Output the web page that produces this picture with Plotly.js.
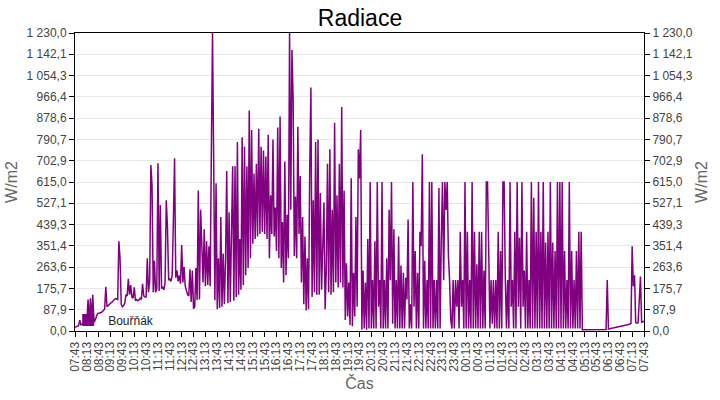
<!DOCTYPE html>
<html>
<head>
<meta charset="utf-8">
<script src="https://cdn.plot.ly/plotly-3.0.1.min.js"></script>
<style>
  html, body { margin: 0; padding: 0; background: #fff; }
  #chart { width: 720px; height: 400px; }
</style>
</head>
<body>
<div id="chart"></div>
<script>
// sampling: one reading every 3 minutes, starting 07:43
const START = Date.UTC(2024, 4, 1, 7, 43);
const STEP_MIN = 3;
const SERIES_NAME = 'Bouřňák';

// W/m2, 30-minute blocks of 10 readings each
const radiation = [
    15, 17, 20, 22, 45, 25, 28, 30, 30, 32,            // 07:43
    35, 130, 35, 135, 40, 150, 35, 45, 60, 72,         // 08:13
    73, 74, 76, 80, 85, 90, 182, 100, 105, 112,        // 08:43
    115, 118, 122, 128, 134, 132, 130, 370, 300, 110,  // 09:13
    100, 105, 115, 150, 145, 215, 150, 190, 140, 135,  // 09:43
    180, 125, 130, 125, 128, 135, 130, 195, 145, 140,  // 10:13
    140, 300, 160, 205, 685, 600, 160, 290, 160, 175,  // 10:43
    692, 165, 520, 175, 180, 170, 200, 540, 430, 210,  // 11:13
    215, 205, 230, 458, 713, 220, 250, 205, 230, 195,  // 11:43
    355, 200, 265, 185, 160, 150, 145, 255, 120, 250,  // 12:13
    92, 100, 260, 128, 580, 130, 500, 370, 200, 420,   // 12:43
    185, 370, 190, 350, 185, 720, 1230, 700, 127, 610, // 13:13
    90, 300, 95, 470, 100, 320, 110, 300, 660, 115,    // 13:43
    490, 120, 390, 680, 125, 680, 140, 780, 150, 380,  // 14:13
    170, 800, 190, 760, 230, 680, 260, 910, 300, 830,  // 14:43
    360, 650, 380, 690, 390, 835, 400, 760, 410, 745,  // 15:13
    400, 720, 380, 810, 300, 560, 400, 790, 390, 510,  // 15:43
    330, 840, 300, 885, 260, 450, 200, 700, 230, 480,  // 16:13
    300, 1230, 500, 1160, 960, 310, 555, 300, 843, 400, // 16:43
    640, 200, 470, 110, 390, 85, 300, 90, 660, 1005,   // 17:13
    140, 540, 160, 780, 150, 790, 150, 570, 170, 360,  // 17:43
    530, 90, 250, 690, 160, 750, 150, 500, 160, 860,   // 18:13
    200, 560, 180, 690, 200, 925, 180, 580, 45, 280,   // 18:43
    60, 200, 25, 630, 20, 240, 60, 470, 100, 750,      // 19:13
    630, 830, 5, 250, 10, 200, 5, 380, 10, 615,        // 19:43
    10, 210, 10, 370, 10, 615, 100, 210, 10, 615,      // 20:13
    10, 210, 10, 300, 10, 500, 210, 615, 30, 420,      // 20:43
    10, 210, 10, 390, 10, 270, 10, 240, 10, 220,       // 21:13
    130, 460, 10, 110, 10, 615, 100, 330, 10, 240,     // 21:43
    10, 410, 350, 730, 10, 290, 10, 210, 10, 615,      // 22:13
    10, 615, 10, 210, 10, 210, 10, 590, 10, 380,       // 22:43
    615, 210, 615, 500, 615, 310, 210, 45, 10, 210,    // 23:13
    10, 210, 100, 210, 10, 410, 100, 210, 10, 615,     // 23:43
    10, 410, 10, 210, 10, 615, 10, 410, 10, 275,       // 00:13
    10, 410, 10, 410, 10, 250, 10, 615, 615, 330,      // 00:43
    10, 210, 30, 210, 10, 210, 10, 410, 10, 330,       // 01:13
    10, 615, 615, 210, 10, 210, 10, 615, 100, 210,     // 01:43
    10, 410, 10, 615, 100, 385, 10, 615, 100, 250,     // 02:13
    10, 410, 10, 210, 10, 615, 10, 550, 10, 410,       // 02:43
    10, 615, 10, 410, 10, 615, 10, 365, 10, 410,       // 03:13
    10, 615, 10, 365, 10, 330, 10, 615, 10, 615,       // 03:43
    10, 615, 10, 330, 10, 210, 10, 615, 10, 330,       // 04:13
    10, 210, 10, 330, 10, 410, 10, 410, 5, 5,          // 04:43
    5, 5, 5, 5, 5, 5, 5, 5, 5, 5,                      // 05:13
    5, 5, 5, 5, 6, 6, 6, 6, 6, 210,                    // 05:43
    8, 9, 10, 11, 12, 13, 14, 15, 16, 17,              // 06:13
    18, 19, 20, 21, 22, 24, 26, 27, 29, 30,            // 06:43
    350, 185, 230, 35, 32, 34, 125, 225, 36, 38,       // 07:13
    40                                                 // 07:43
];

const Y_MAX = 1230;
const Y_DIVISIONS = 14;

function stamp(ms) {
    return new Date(ms).toISOString().slice(0, 19).replace('T', ' ');
}

const times = radiation.map((_, i) => stamp(START + i * STEP_MIN * 60000));
const endTime = times[times.length - 1];

const FONT = "'Liberation Sans', Arial, sans-serif";
const PURPLE = '#800080';

const yAxisBase = {
    range: [0, Y_MAX],
    tickmode: 'linear',
    tick0: 0,
    dtick: Y_MAX / Y_DIVISIONS,
    tickformat: ',.1f',
    ticks: 'outside',
    ticklen: 5,
    tickcolor: '#000',
    showline: true,
    linecolor: '#000',
    linewidth: 1,
    zeroline: false,
    tickfont: { size: 12, color: '#444', family: FONT },
    title: { text: 'W/m2', font: { size: 16, color: '#666', family: FONT }, standoff: 4 }
};

Plotly.newPlot('chart', [{
    x: times,
    y: radiation,
    type: 'scatter',
    mode: 'lines',
    line: { color: PURPLE, width: 1.5 },
    showlegend: false,
    hoverinfo: 'skip'
}, {
    // legend entry only, also keeps the right-hand axis in place
    x: [null],
    y: [null],
    yaxis: 'y2',
    type: 'scatter',
    mode: 'markers',
    name: SERIES_NAME,
    marker: { symbol: 'square', size: 12, color: PURPLE }
}], {
    width: 720,
    height: 400,
    separators: ', ',
    paper_bgcolor: '#fff',
    plot_bgcolor: '#fff',
    font: { family: FONT, color: '#444' },
    margin: { l: 75, r: 76, t: 33, b: 69 },
    title: {
        text: 'Radiace',
        font: { size: 23, color: '#000', family: FONT },
        x: 0.5,
        xanchor: 'center',
        y: 0.955,
        yanchor: 'middle'
    },
    xaxis: {
        type: 'date',
        range: [times[0], endTime],
        tick0: times[0],
        dtick: 30 * 60000,
        tickformat: '%H:%M',
        tickangle: -90,
        ticks: 'outside',
        ticklen: 5,
        tickcolor: '#000',
        showline: true,
        linecolor: '#000',
        mirror: true,
        showgrid: false,
        zeroline: false,
        tickfont: { size: 12, color: '#444', family: FONT },
        title: { text: 'Čas', font: { size: 16, color: '#666', family: FONT }, standoff: 6 }
    },
    yaxis: Object.assign({}, yAxisBase, {
        showgrid: true,
        gridcolor: '#e8e8e8',
        gridwidth: 1
    }),
    yaxis2: Object.assign({}, yAxisBase, {
        overlaying: 'y',
        side: 'right',
        showgrid: false
    }),
    legend: {
        x: -0.012,
        y: -0.012,
        xanchor: 'left',
        yanchor: 'bottom',
        bgcolor: 'rgba(0,0,0,0)',
        font: { size: 12, color: '#222', family: FONT }
    },
    showlegend: true
}, { displayModeBar: false, staticPlot: true });
</script>
</body>
</html>
